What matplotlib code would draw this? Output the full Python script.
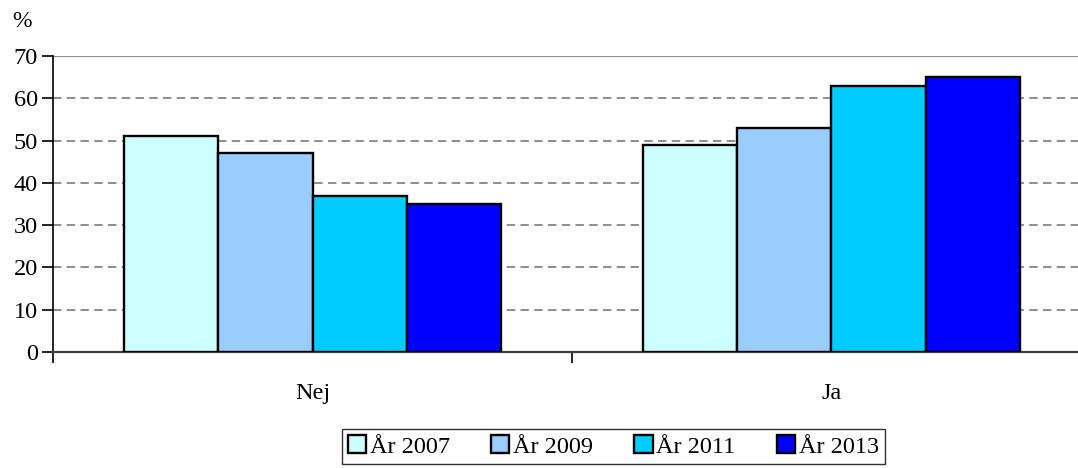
import numpy as np
import matplotlib
matplotlib.use('Agg')
import matplotlib.pyplot as plt

categories = ['Nej', 'Ja']
series = ['År 2007', 'År 2009', 'År 2011', 'År 2013']
values = [
    [51, 49],
    [47, 53],
    [37, 63],
    [35, 65],
]
colors = ['#CCFFFF', '#99CCFF', '#00CCFF', '#0000FF']
yticks = [0, 10, 20, 30, 40, 50, 60, 70]

plt.rcParams['font.family'] = ['Liberation Serif', 'DejaVu Serif']

fig = plt.figure(figsize=(10.78, 4.68), dpi=100)
ax = fig.add_axes([0.0492, 0.2479, 0.9508, 0.6324])

x = np.arange(len(categories))
w = 0.1816
for i, (name, vals, c) in enumerate(zip(series, values, colors)):
    ax.bar(x + (i - 1.5) * w, vals, w, color=c, edgecolor='black',
           linewidth=1.7, label=name, zorder=3)

ax.set_yticks(yticks)
for t in yticks[1:-1]:
    ax.axhline(t, color='#707070', linewidth=1.1, linestyle=(0, (5.5, 3.5)), zorder=1)
ax.axhline(70, color='#909090', linewidth=1.6, zorder=1)

ax.set_xticks([-0.5, 0.5, 1.5])
ax.set_xticklabels([])
ax.set_xticks(x, minor=True)
ax.set_xticklabels(categories, minor=True)
ax.tick_params(axis='x', which='major', length=8, width=1.2, direction='out')
ax.tick_params(axis='x', which='minor', length=0, pad=22, labelsize=17.5)
ax.tick_params(axis='y', length=8, width=1.2, direction='out', labelsize=17.5, pad=3)
ax.set_ylim(0, 70)
ax.set_xlim(-0.5, 1.475)

for s in ['top', 'right']:
    ax.spines[s].set_visible(False)
ax.spines['left'].set_linewidth(1.2)
ax.spines['bottom'].set_linewidth(1.6)
ax.spines['bottom'].set_color('#404040')

fig.text(0.011, 0.953, '%', fontsize=17, ha='left', va='center')

leg = fig.legend(loc='upper center', bbox_to_anchor=(0.569, 0.083), ncol=4,
                 fontsize=17.5, frameon=True, fancybox=False, edgecolor='black',
                 handlelength=0.75, handleheight=0.75, handletextpad=0.15,
                 columnspacing=1.7, borderpad=0.25, borderaxespad=0)
leg.get_frame().set_linewidth(1.0)

fig.savefig('out.png', dpi=100)
